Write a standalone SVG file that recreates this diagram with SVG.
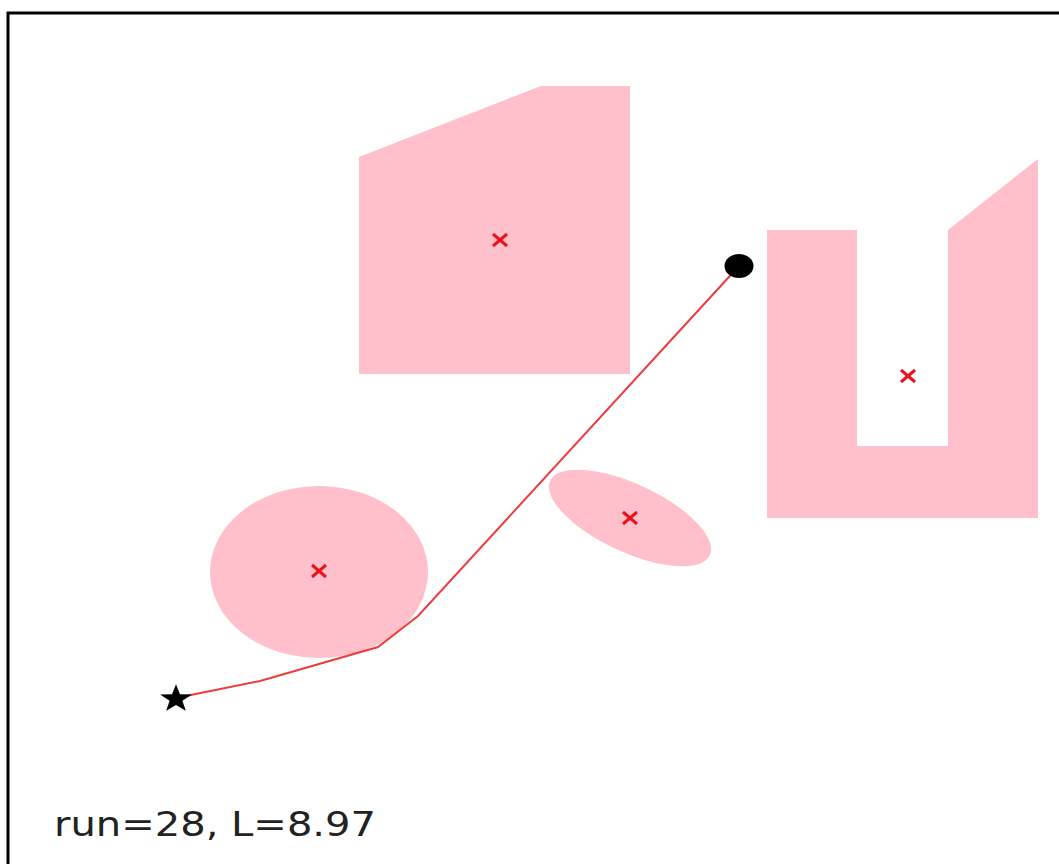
<svg xmlns="http://www.w3.org/2000/svg" width="1059" height="864" viewBox="0 0 1059 864">
<style>
.obs{fill:#ffc0cb;stroke:none}
.cx{stroke:#e8141c;stroke-width:3;stroke-linecap:butt}
.path{fill:none;stroke:#ee3b3b;stroke-width:2}
.lbl{font-family:"DejaVu Sans",sans-serif;font-size:33px;fill:#222}
</style>
<defs>
<g id="xm"><line class="cx" x1="-7" y1="-6" x2="7" y2="6"/><line class="cx" x1="-7" y1="6" x2="7" y2="-6"/></g>
</defs>
<rect x="0" y="0" width="1059" height="864" fill="#fff"/>
<rect x="8" y="13" width="1070" height="870" fill="#fff" stroke="#000" stroke-width="3"/>
<g id="obstacle-top">
<polygon class="obs" points="359,157 541,86 630,86 630,374 359,374"/>
<use href="#xm" x="500" y="240"/>
</g>
<g id="obstacle-u">
<polygon class="obs" points="767,230 857,230 857,446 948,446 948,230 1038,159 1038,518 767,518"/>
<use href="#xm" x="908" y="376"/>
</g>
<g id="obstacle-circle">
<ellipse class="obs" cx="319" cy="572" rx="109" ry="86"/>
<use href="#xm" x="319" y="571"/>
</g>
<g id="obstacle-ellipse">
<ellipse class="obs" cx="630" cy="518" rx="88" ry="34" transform="rotate(25 630 518)"/>
<use href="#xm" x="630" y="518"/>
</g>
<g id="connectors">
<polyline class="path" points="176,698 260,681 378,647 418,616 739,266"/>
</g>
<g id="start">
<polygon fill="#000" transform="translate(176 699) scale(1.2 1.05)" points="0,-14 3.3,-4.5 13.3,-4.3 5.3,1.7 8.2,11.3 0,5.6 -8.2,11.3 -5.3,1.7 -13.3,-4.3 -3.3,-4.5"/>
</g>
<g id="goal">
<ellipse cx="739" cy="266" rx="14.5" ry="12" fill="#000"/>
</g>
<text class="lbl" x="54" y="836" textLength="322" lengthAdjust="spacingAndGlyphs">run=28, L=8.97</text>
</svg>
